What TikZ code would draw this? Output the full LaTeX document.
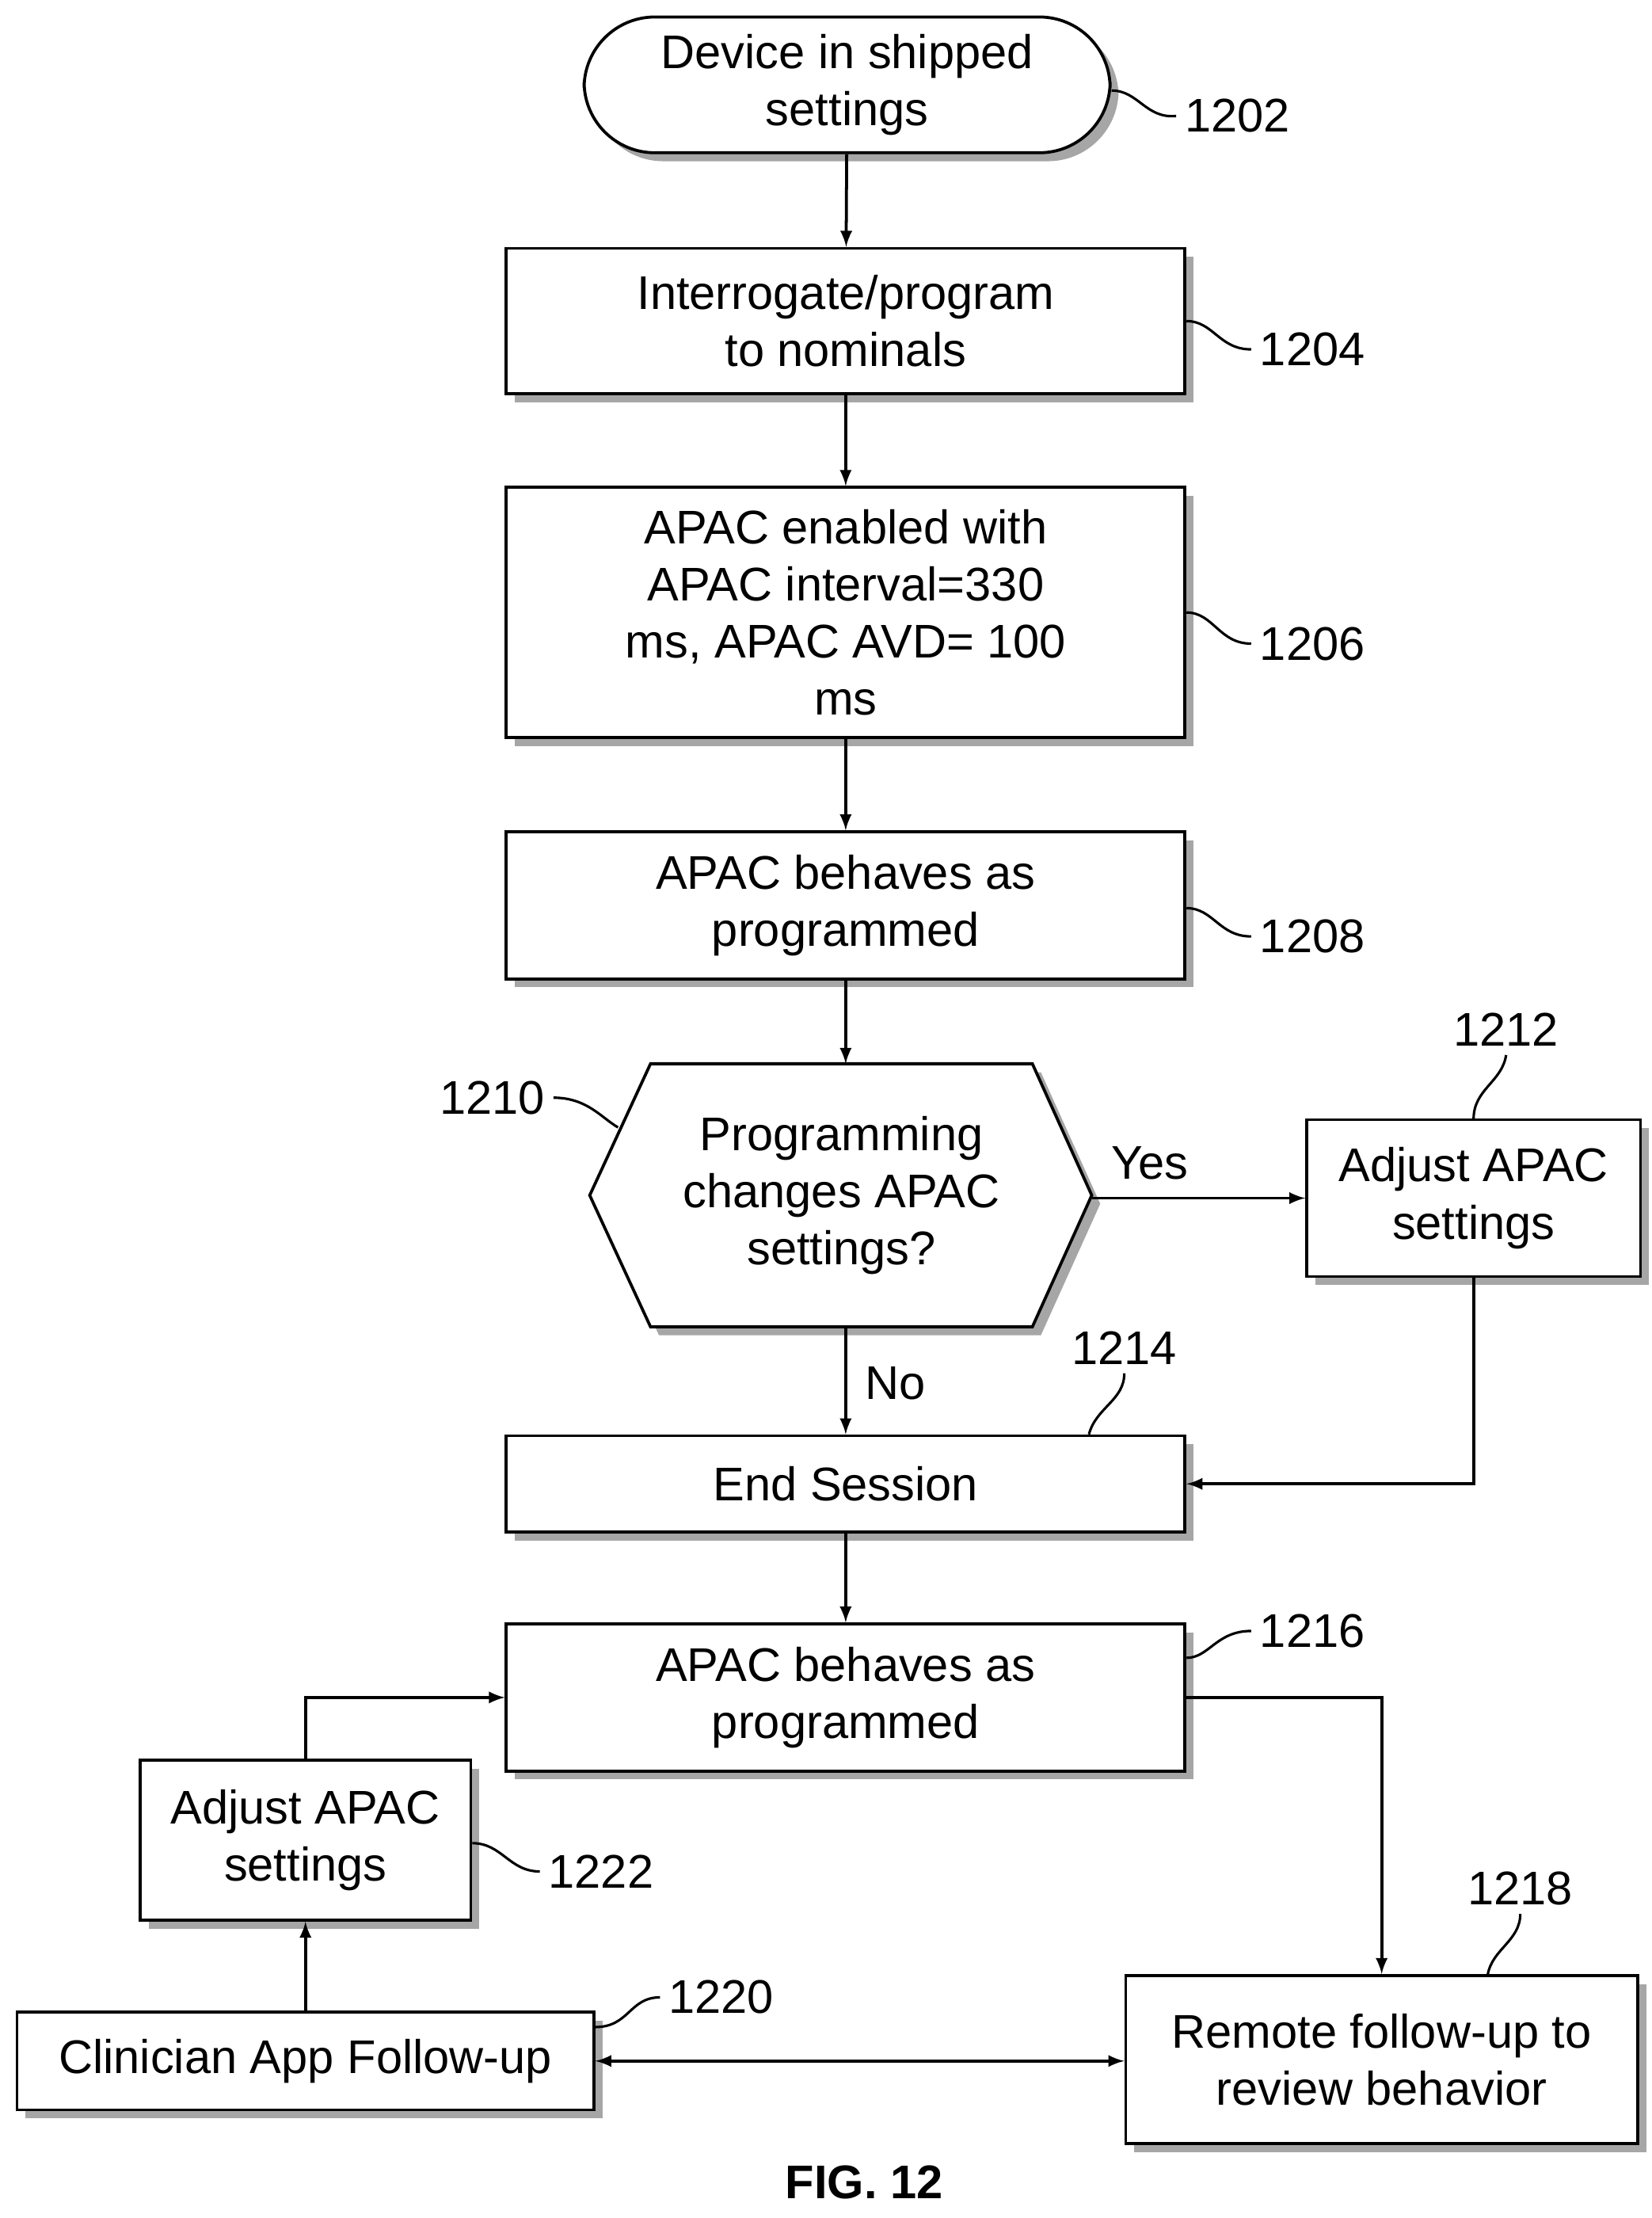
\documentclass[tikz,border=0pt]{standalone}
\usepackage{fontspec}
\setmainfont{Liberation Sans}
\usetikzlibrary{positioning,shadows,calc}

\tikzset{
  box/.style={draw, line width=1.2pt, fill=white, align=center,
    font=\fontsize{19}{23}\selectfont,
    drop shadow={shadow xshift=1.2mm, shadow yshift=-1.2mm, fill=gray!70, opacity=1}},
  lbl/.style={font=\fontsize{19}{23}\selectfont},
  flow/.style={line width=1.2pt, -latex},
  sq/.style={line width=1pt}
}

\begin{document}
\begin{tikzpicture}[x=0.02cm,y=-0.02cm]
	\useasboundingbox (0,0) rectangle (1168,1568);

	\node [box, rounded corners=1cm, minimum width=7.44cm, minimum height=1.92cm] (s1202) at (599,60) {Device in shipped\\settings};
	\node [box, minimum width=9.6cm, minimum height=2.06cm] (s1204) at (598,227) {Interrogate/program\\to nominals};
	\node [box, minimum width=9.6cm, minimum height=3.54cm] (s1206) at (598,433) {APAC enabled with\\APAC interval=330\\ms, APAC AVD= 100\\ms};
	\node [box, minimum width=9.6cm, minimum height=2.08cm] (s1208) at (598,640) {APAC behaves as\\programmed};
	% decision hexagon
	\draw [line width=1.2pt, fill=white, drop shadow={shadow xshift=1.2mm, shadow yshift=-1.2mm, fill=gray!70, opacity=1}]
		(417,845) -- (460,752) -- (730,752) -- (772,845) -- (730,938) -- (460,938) -- cycle;
	\node [align=center, minimum width=7.1cm, minimum height=3.72cm, font=\fontsize{19}{23}\selectfont] (s1210) at (595,845) {Programming\\changes APAC\\settings?};
	\node [box, minimum width=4.72cm, minimum height=2.22cm] (s1212) at (1042,847) {Adjust APAC\\settings};
	\node [box, minimum width=9.6cm, minimum height=1.36cm] (s1214) at (598,1049) {End Session};
	\node [box, minimum width=9.6cm, minimum height=2.08cm] (s1216) at (598,1200) {APAC behaves as\\programmed};
	\node [box, minimum width=4.68cm, minimum height=2.26cm] (s1222) at (216,1301) {Adjust APAC\\settings};
	\node [box, minimum width=8.16cm, minimum height=1.38cm] (s1220) at (216,1457) {Clinician App Follow-up};
	\node [box, minimum width=7.24cm, minimum height=2.38cm] (s1218) at (977,1456) {Remote follow-up to\\review behavior};

	% reference numerals
	\node [lbl] (n1202) at (875,82) {1202};
	\node [lbl] (n1204) at (928,247) {1204};
	\node [lbl] (n1206) at (928,455) {1206};
	\node [lbl] (n1208) at (928,662) {1208};
	\node [lbl] (n1210) at (348,776) {1210};
	\node [lbl] (n1212) at (1065,728) {1212};
	\node [lbl] (n1214) at (795,953) {1214};
	\node [lbl] (n1216) at (928,1153) {1216};
	\node [lbl] (n1222) at (425,1323) {1222};
	\node [lbl] (n1220) at (510,1412) {1220};
	\node [lbl] (n1218) at (1075,1335) {1218};
	\node [lbl] (yes) at (813,822) {Yes};
	\node [lbl] (no) at (633,978) {No};
	\node [font=\bfseries\fontsize{19}{23}\selectfont] (fig) at (611,1543) {FIG. 12};

	% leader lines
	\draw [sq] (786,64) .. controls (805,64) and (810,84) .. (n1202.west);
	\draw [sq] (839,227) .. controls (858,227) and (862,247) .. (n1204.west);
	\draw [sq] (839,433) .. controls (858,433) and (862,455) .. (n1206.west);
	\draw [sq] (839,642) .. controls (858,642) and (862,662) .. (n1208.west);
	\draw [sq] (n1210.east) .. controls (415,776) and (425,790) .. (437,797);
	\draw [sq] (n1212.south) .. controls (1062,765) and (1042,770) .. (1042,791);
	\draw [sq] (n1214.south) .. controls (795,990) and (775,995) .. (770,1014);
	\draw [sq] (839,1172) .. controls (855,1172) and (860,1153) .. (n1216.west);
	\draw [sq] (334,1303) .. controls (355,1303) and (360,1323) .. (n1222.west);
	\draw [sq] (421,1433) .. controls (445,1433) and (445,1412) .. (n1220.west);
	\draw [sq] (n1218.south) .. controls (1075,1372) and (1055,1378) .. (1052,1396);

	% flow
	\draw [flow] (s1202) -- (s1204);
	\draw [flow] (s1204) -- (s1206);
	\draw [flow] (s1206) -- (s1208);
	\draw [flow] (s1208) -- (598,752);
	\draw [flow] (598,938) -- (s1214);
	\draw [flow] (772,847) -- (s1212.west);
	\draw [flow] (s1212.south) |- (s1214.east);
	\draw [flow] (s1214) -- (s1216);
	\draw [flow] (s1216.east) -| (s1218.north);
	\draw [flow, latex-latex] (s1220.east) -- (s1218.west |- s1220.east);
	\draw [flow] (s1220) -- (s1222);
	\draw [flow] (s1222.north) |- (s1216.west);
\end{tikzpicture}
\end{document}
